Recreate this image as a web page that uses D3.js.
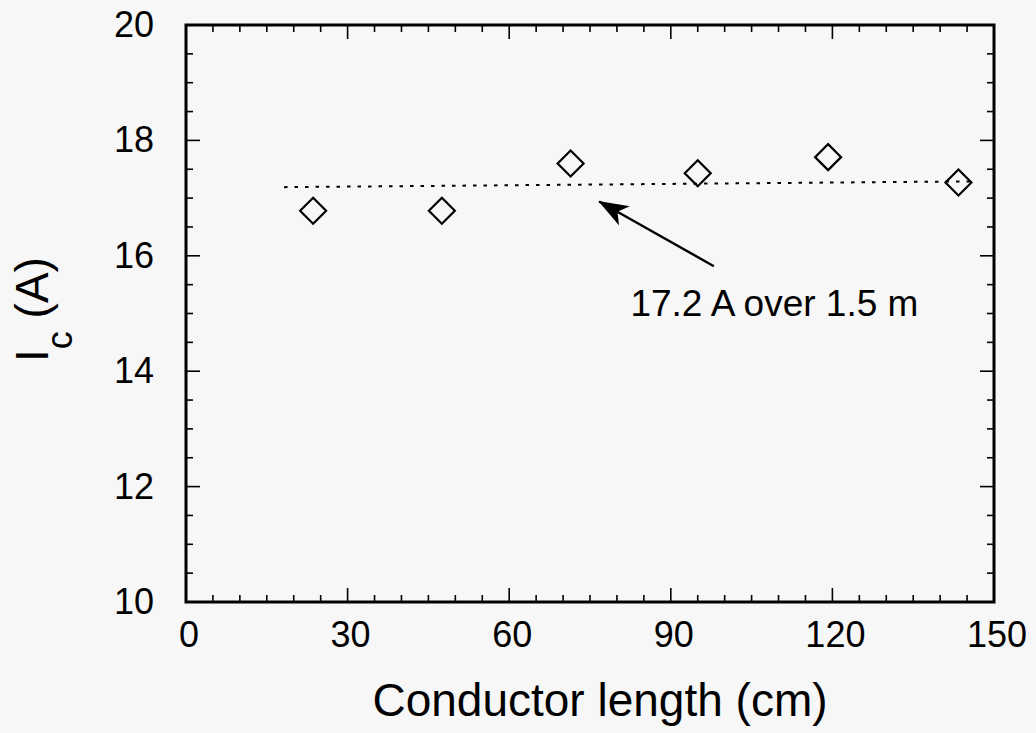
<!DOCTYPE html>
<html><head><meta charset="utf-8">
<script src="https://cdn.jsdelivr.net/npm/d3@7"></script>
<style>body{margin:0;background:#f7f7f7;} svg{display:block;}</style>
</head><body>
<script>
const lengths = [23.6, 47.5, 71.4, 95.0, 119.2, 143.4];
const currents = [16.78, 16.78, 17.60, 17.43, 17.71, 17.27];
const fitLine = [[18.2, 17.19], [146.0, 17.29]];
const arrowPts = [[98.0, 15.82], [76.7, 16.94]];
const noteText = "17.2 A over 1.5 m";
const notePos = [82.5, 14.95];
const xTicks = [0, 30, 60, 90, 120, 150];
const yTicks = [10, 12, 14, 16, 18, 20];
const xMinor = d3.range(0, 151, 5);
const yMinor = d3.range(10, 20.01, 0.5);

const W = 1036, H = 733;
const L = 186, R = 994, T = 25, B = 602;
const svg = d3.select("body").append("svg").attr("width", W).attr("height", H)
  .style("background", "#f7f7f7");
const x = d3.scaleLinear().domain([0, 150]).range([L, R]);
const y = d3.scaleLinear().domain([10, 20]).range([B, T]);
const font = "Liberation Sans, Arial, Helvetica, sans-serif";

// ticks inward on all sides
const g = svg.append("g").attr("stroke", "#000");
const minorLen = 7, majorLen = 14;
xMinor.forEach(v => {
  const len = (v % 30 === 0) ? majorLen : minorLen;
  g.append("line").attr("x1", x(v)).attr("x2", x(v)).attr("y1", B).attr("y2", B - len).attr("stroke-width", 1.6);
  g.append("line").attr("x1", x(v)).attr("x2", x(v)).attr("y1", T).attr("y2", T + len).attr("stroke-width", 1.6);
});
yMinor.forEach(v => {
  const len = (Math.abs(v % 2) < 1e-9) ? majorLen : minorLen;
  g.append("line").attr("y1", y(v)).attr("y2", y(v)).attr("x1", L).attr("x2", L + len).attr("stroke-width", 1.6);
  g.append("line").attr("y1", y(v)).attr("y2", y(v)).attr("x1", R).attr("x2", R - len).attr("stroke-width", 1.6);
});

// frame
svg.append("rect").attr("x", L).attr("y", T).attr("width", R - L).attr("height", B - T)
  .attr("fill", "none").attr("stroke", "#000").attr("stroke-width", 3);

// tick labels
svg.append("g").selectAll("text").data(xTicks).join("text")
  .attr("x", d => x(d) + 3).attr("y", 647).attr("text-anchor", "middle")
  .attr("font-family", font).attr("font-size", 36).text(d => d);
svg.append("g").selectAll("text").data(yTicks).join("text")
  .attr("x", 154).attr("y", d => y(d) + 12).attr("text-anchor", "end")
  .attr("font-family", font).attr("font-size", 36).text(d => d);

// axis titles
svg.append("text").attr("x", 600).attr("y", 716).attr("text-anchor", "middle")
  .attr("font-family", font).attr("font-size", 46).text("Conductor length (cm)");
const yl = svg.append("text").attr("transform", "translate(48,362) rotate(-90)")
  .attr("text-anchor", "start").attr("font-family", font).attr("font-size", 46);
yl.append("tspan").text("I");
yl.append("tspan").attr("font-size", 36).attr("dy", 24).text("c");
yl.append("tspan").attr("dy", -24).text(" (A)");

// dotted fit line
svg.append("line").attr("x1", x(fitLine[0][0])).attr("y1", y(fitLine[0][1]))
  .attr("x2", x(fitLine[1][0])).attr("y2", y(fitLine[1][1]))
  .attr("stroke", "#000").attr("stroke-width", 2).attr("stroke-dasharray", "3.5,7");

// diamonds
svg.append("g").selectAll("path").data(lengths.map((l, i) => [l, currents[i]])).join("path")
  .attr("d", d => {
    const cx = x(d[0]), cy = y(d[1]), r = 13;
    return `M${cx},${cy - r}L${cx + r},${cy}L${cx},${cy + r}L${cx - r},${cy}Z`;
  })
  .attr("fill", "none").attr("stroke", "#000").attr("stroke-width", 2.2);

// arrow
svg.append("defs").append("marker").attr("id", "ah").attr("viewBox", "0 0 30 22")
  .attr("refX", 29).attr("refY", 11).attr("markerWidth", 30).attr("markerHeight", 22)
  .attr("markerUnits", "userSpaceOnUse").attr("orient", "auto")
  .append("path").attr("d", "M0,0L30,11L0,22L8,11Z").attr("fill", "#000");
svg.append("line").attr("x1", x(arrowPts[0][0])).attr("y1", y(arrowPts[0][1]))
  .attr("x2", x(arrowPts[1][0])).attr("y2", y(arrowPts[1][1]))
  .attr("stroke", "#000").attr("stroke-width", 2.4).attr("marker-end", "url(#ah)");

svg.append("text").attr("x", x(notePos[0])).attr("y", y(notePos[1]))
  .attr("font-family", font).attr("font-size", 37).text(noteText);
</script>
</body></html>
